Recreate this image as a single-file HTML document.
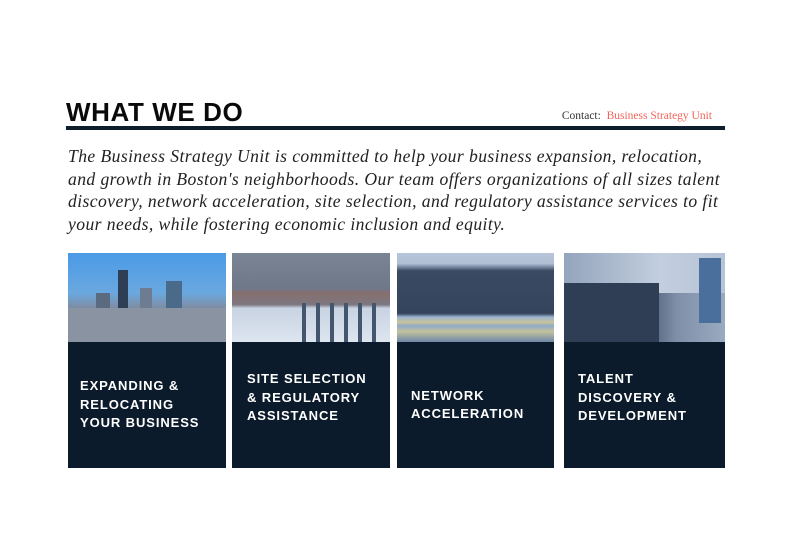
<!DOCTYPE html>
<html><head><meta charset="utf-8"><style>
*{margin:0;padding:0;box-sizing:border-box}
body{width:800px;height:556px;background:#fff;position:relative;overflow:hidden}
.title{position:absolute;left:66px;top:97px;font:bold 26px "Liberation Sans",sans-serif;color:#0a0a0a;letter-spacing:0.6px}
.contact{position:absolute;right:88px;top:110px;font:11.5px "Liberation Serif",serif;color:#333}
.contact span{color:#f4645a}
.rule{position:absolute;left:66px;top:126px;width:659px;height:4px;background:#0e1d2c}
.para{position:absolute;left:68px;top:145px;white-space:nowrap;font:italic 17.6px/22.7px "Liberation Serif",serif;color:#222;letter-spacing:0.42px}
.card{position:absolute;top:253px;height:215px;background:#0b1b2b}
.img{position:absolute;left:0;top:0;width:100%;height:89px;overflow:hidden}
.lbl{position:absolute;top:89px;left:0;right:0;bottom:0;display:flex;align-items:center;padding-left:12px;font:bold 13px/18.5px "Liberation Sans",sans-serif;color:#fff;letter-spacing:0.9px}
</style></head><body>
<div class="title">WHAT WE DO</div>
<div class="contact">Contact:&nbsp; <span>Business Strategy Unit</span></div>
<div class="rule"></div>
<div class="para">The Business Strategy Unit is committed to help your business expansion, relocation,<br>and growth in Boston's neighborhoods. Our team offers organizations of all sizes talent<br>discovery, network acceleration, site selection, and regulatory assistance services to fit<br>your needs, while fostering economic inclusion and equity.</div>

<div class="card" style="left:68px;width:158px">
 <div class="img" style="background:linear-gradient(#4a9ae6 0%,#6aa8e0 45%,#7d8fa8 60%,#8494a8 100%)">
  <div style="position:absolute;left:50px;top:17px;width:10px;height:45px;background:#2e3e55"></div>
  <div style="position:absolute;left:28px;top:40px;width:14px;height:25px;background:#5a6b80"></div>
  <div style="position:absolute;left:72px;top:35px;width:12px;height:30px;background:#6d7c90"></div>
  <div style="position:absolute;left:98px;top:28px;width:16px;height:35px;background:#4a6a8a"></div>
  <div style="position:absolute;left:0;top:55px;width:158px;height:34px;background:#8a93a2"></div>
 </div>
 <div class="lbl">EXPANDING &amp;<br>RELOCATING<br>YOUR BUSINESS</div>
</div>

<div class="card" style="left:232px;width:158px">
 <div class="img" style="background:linear-gradient(#7a8494 0%,#6f7889 40%,#866f6e 45%,#7c7780 58%,#c8d3e3 62%,#dde5ef 100%)">
  <div style="position:absolute;left:60px;top:50px;width:90px;height:40px;background:repeating-linear-gradient(90deg,transparent 0 10px,#44566e 10px 14px)"></div>
 </div>
 <div class="lbl" style="padding-left:15px;padding-bottom:14px">SITE SELECTION<br>&amp; REGULATORY<br>ASSISTANCE</div>
</div>

<div class="card" style="left:397px;width:157px">
 <div class="img" style="background:linear-gradient(#b8c6db 0%,#b0bed4 12%,#3a4a62 20%,#34445c 68%,#9bb4d0 72%,#c9c49a 78%,#8fa9c9 82%,#c4c39e 88%,#6d87a8 100%)"></div>
 <div class="lbl" style="padding-left:14px">NETWORK<br>ACCELERATION</div>
</div>

<div class="card" style="left:564px;width:161px">
 <div class="img" style="background:linear-gradient(90deg,#5a6a84 0%,#4a5a74 50%,#7f8fa8 70%,#9aaac0 100%)">
  <div style="position:absolute;left:0;top:0;width:161px;height:40px;background:linear-gradient(90deg,#93a4bc,#c3cfdf 60%,#b6c3d6)"></div>
  <div style="position:absolute;left:0;top:30px;width:95px;height:59px;background:#2f3d55"></div>
  <div style="position:absolute;left:135px;top:5px;width:22px;height:65px;background:#4b6f9c"></div>
 </div>
 <div class="lbl" style="padding-left:14px;padding-bottom:14px">TALENT<br>DISCOVERY &amp;<br>DEVELOPMENT</div>
</div>
</body></html>
